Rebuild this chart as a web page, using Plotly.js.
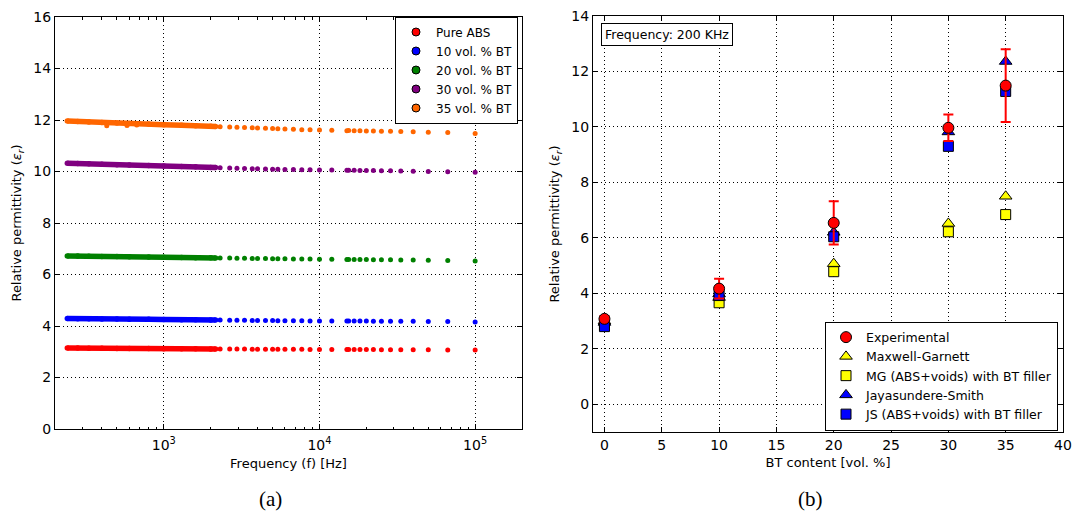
<!DOCTYPE html>
<html><head><meta charset="utf-8">
<script src="https://cdn.plot.ly/plotly-3.0.1.min.js"></script>
<style>html,body{margin:0;padding:0;background:#fff}</style>
</head><body>
<div id="chart" style="width:1077px;height:517px"></div>
<script>
// ---------- Panel (a): relative permittivity vs frequency ----------
const seriesNames = ['Pure ABS', '10 vol. % BT', '20 vol. % BT', '30 vol. % BT', '35 vol. % BT'];
const seriesColors = ['#ff0000', '#0000ff', '#008000', '#800080', '#ff6600'];

// dense low-frequency sweep (drawn as a continuous band)
const bandFreq = [240, 280, 330, 400, 500, 600, 800, 1000, 1300, 1600, 2000, 2150];
// discrete higher-frequency points
const dotFreq = [2300, 2650, 2950, 3300, 3700, 4000, 4500, 5000, 5400, 6000, 6800, 7700, 8700,
  10000, 12000, 15000, 15400, 16700, 18200, 20000, 22200, 25000, 28600, 33300, 40000, 50000, 66700, 100000];

const bandPure = [3.15, 3.15, 3.14, 3.14, 3.13, 3.13, 3.13, 3.12, 3.12, 3.12, 3.11, 3.11];
const dotPure  = [3.11, 3.11, 3.11, 3.11, 3.10, 3.10, 3.10, 3.10, 3.10, 3.10, 3.10, 3.10, 3.09, 3.09,
  3.09, 3.09, 3.09, 3.09, 3.09, 3.09, 3.09, 3.08, 3.08, 3.08, 3.08, 3.08, 3.07, 3.07];
const band10 = [4.29, 4.28, 4.28, 4.27, 4.27, 4.26, 4.26, 4.25, 4.24, 4.24, 4.23, 4.23];
const dot10  = [4.23, 4.22, 4.22, 4.22, 4.21, 4.21, 4.21, 4.21, 4.20, 4.20, 4.20, 4.20, 4.19, 4.19,
  4.19, 4.19, 4.19, 4.19, 4.19, 4.19, 4.18, 4.18, 4.18, 4.18, 4.18, 4.17, 4.17, 4.16];
const band20 = [6.72, 6.72, 6.71, 6.70, 6.70, 6.69, 6.68, 6.67, 6.66, 6.65, 6.65, 6.64];
const dot20  = [6.64, 6.64, 6.63, 6.63, 6.62, 6.62, 6.62, 6.61, 6.61, 6.61, 6.60, 6.60, 6.60, 6.59,
  6.59, 6.58, 6.58, 6.58, 6.58, 6.58, 6.57, 6.57, 6.57, 6.56, 6.56, 6.55, 6.54, 6.52];
const band30 = [10.32, 10.31, 10.30, 10.28, 10.26, 10.25, 10.23, 10.21, 10.19, 10.18, 10.16, 10.16];
const dot30  = [10.15, 10.14, 10.13, 10.12, 10.11, 10.11, 10.10, 10.09, 10.09, 10.08, 10.08, 10.07, 10.07, 10.06,
  10.06, 10.05, 10.05, 10.05, 10.04, 10.04, 10.04, 10.03, 10.03, 10.02, 10.01, 10.00, 9.99, 9.97];
const band35 = [11.96, 11.94, 11.92, 11.90, 11.88, 11.86, 11.84, 11.82, 11.80, 11.78, 11.76, 11.75];
const dot35  = [11.74, 11.73, 11.72, 11.71, 11.70, 11.69, 11.68, 11.67, 11.66, 11.65, 11.64, 11.62, 11.62, 11.61,
  11.60, 11.58, 11.59, 11.58, 11.58, 11.57, 11.57, 11.56, 11.56, 11.55, 11.54, 11.52, 11.51, 11.48];
// a few noisy outliers in the 35 % sweep
const out35Freq = [430, 580, 670];
const out35Vals = [11.78, 11.79, 11.81];

const freqTicks = [1000, 10000, 100000];
const freqTickText = ['10<sup>3</sup>', '10<sup>4</sup>', '10<sup>5</sup>'];

// ---------- Panel (b): relative permittivity vs BT content ----------
const btContent = [0, 10, 20, 30, 35];
const experimental = [3.08, 4.17, 6.54, 9.97, 11.49];
const experimentalErr = [0.10, 0.36, 0.78, 0.48, 1.31];
const maxwellGarnett = [3.00, 3.85, 5.07, 6.52, 7.50];
const mgVoids = [2.85, 3.66, 4.78, 6.22, 6.84];
const jayasundereSmith = [2.95, 3.98, 6.20, 9.82, 12.36];
const jsVoids = [2.80, 3.92, 6.04, 9.30, 11.28];

// ---------- traces ----------
const bandVals = [bandPure, band10, band20, band30, band35];
const dotVals = [dotPure, dot10, dot20, dot30, dot35];
const traces = [];
for (let i = 0; i < 5; i++) {
  traces.push({x: bandFreq, y: bandVals[i], xaxis: 'x', yaxis: 'y', mode: 'lines+markers', showlegend: false,
    line: {color: seriesColors[i], width: 5.5}, marker: {color: seriesColors[i], size: 5.5}, hoverinfo: 'skip'});
  traces.push({x: dotFreq, y: dotVals[i], xaxis: 'x', yaxis: 'y', mode: 'markers', showlegend: false,
    marker: {color: seriesColors[i], size: 5}});
}
traces.push({x: out35Freq, y: out35Vals, xaxis: 'x', yaxis: 'y', mode: 'markers', showlegend: false,
  marker: {color: seriesColors[4], size: 5}});
// legend entries for panel (a)
for (let i = 0; i < 5; i++) {
  traces.push({x: [null], y: [null], xaxis: 'x', yaxis: 'y', mode: 'markers', name: seriesNames[i],
    legend: 'legend', marker: {color: seriesColors[i], size: 8, line: {color: '#000', width: 1}}});
}

const ptsB = [
  {y: maxwellGarnett, name: 'Maxwell-Garnett', symbol: 'triangle-up', color: '#ffff00', size: 11, rank: 2},
  {y: mgVoids, name: 'MG (ABS+voids) with BT filler', symbol: 'square', color: '#ffff00', size: 10, rank: 3},
  {y: jayasundereSmith, name: 'Jayasundere-Smith', symbol: 'triangle-up', color: '#0000ff', size: 11, rank: 4},
  {y: jsVoids, name: 'JS (ABS+voids) with BT filler', symbol: 'square', color: '#0000ff', size: 10, rank: 5}
];
ptsB.forEach(p => traces.push({x: btContent, y: p.y, xaxis: 'x2', yaxis: 'y2', mode: 'markers', name: p.name,
  legend: 'legend2', legendrank: p.rank,
  marker: {symbol: p.symbol, color: p.color, size: p.size, line: {color: '#000', width: 1}}}));
traces.push({x: btContent, y: experimental, xaxis: 'x2', yaxis: 'y2', mode: 'markers', name: 'Experimental',
  legend: 'legend2', legendrank: 1,
  error_y: {type: 'data', array: experimentalErr, visible: true, color: '#ff0000', thickness: 2, width: 5},
  marker: {symbol: 'circle', color: '#ff0000', size: 11, line: {color: '#000', width: 1}}});

// ---------- layout ----------
const W = 1077, T = 16, B = 85, H = 517;
const plotH = H - T - B;
const py = p => (H - B - p) / plotH;   // pixel row -> paper y
const px = p => p / W;                 // pixel col -> paper x
const font = {family: 'DejaVu Sans, sans-serif', color: '#000'};
const gridDash = '1px,3px';
const axBase = {showline: true, linecolor: '#000', linewidth: 1, mirror: 'ticks', ticks: 'inside',
  ticklen: 5, tickcolor: '#000', tickwidth: 1, showgrid: true, gridcolor: '#000', gridwidth: 1,
  griddash: gridDash, zeroline: false, tickfont: {family: font.family, size: 14, color: '#000'}};

const minorVals = [];
[100, 1000, 10000, 100000].forEach(d => { for (let k = 2; k <= 9; k++) minorVals.push(k * d); });

const layout = {
  width: W, height: H, margin: {l: 0, r: 0, t: T, b: B}, paper_bgcolor: '#fff', plot_bgcolor: '#fff',
  font: font, showlegend: true,
  xaxis: Object.assign({}, axBase, {domain: [px(55), px(522)], anchor: 'y', type: 'log',
    range: [Math.log10(200), Math.log10(200000)], tickmode: 'array', tickvals: freqTicks, ticktext: freqTickText,
    ticklabelstandoff: 3,
    minor: {tickmode: 'array', tickvals: minorVals, ticks: 'inside', ticklen: 2.5, tickcolor: '#000', showgrid: false},
    title: {text: 'Frequency (f) [Hz]', font: {family: font.family, size: 13, color: '#000'}, standoff: 7}}),
  yaxis: Object.assign({}, axBase, {domain: [py(429), py(17)], anchor: 'x', range: [0, 16], dtick: 2, tick0: 0,
    title: {text: 'Relative permittivity (<i>ε<sub>r</sub></i>)', font: {family: font.family, size: 13, color: '#000'}, standoff: 8}}),
  xaxis2: Object.assign({}, axBase, {domain: [px(593), px(1063)], anchor: 'y2', range: [-1, 40], dtick: 5, tick0: 0,
    title: {text: 'BT content [vol. %]', font: {family: font.family, size: 13, color: '#000'}, standoff: 6}}),
  yaxis2: Object.assign({}, axBase, {domain: [py(432), py(16)], anchor: 'x2', range: [-1, 14], dtick: 2, tick0: 0,
    title: {text: 'Relative permittivity (<i>ε<sub>r</sub></i>)', font: {family: font.family, size: 13, color: '#000'}, standoff: 8}}),
  legend: {x: px(518), y: py(70), xanchor: 'right', yanchor: 'middle', bgcolor: '#fff', bordercolor: '#000', borderwidth: 1,
    font: {family: font.family, size: 12, color: '#000'}, tracegroupgap: 0, itemsizing: 'trace'},
  legend2: {x: px(1058), y: py(376), xanchor: 'right', yanchor: 'middle', bgcolor: '#fff', bordercolor: '#000', borderwidth: 1,
    font: {family: font.family, size: 12.5, color: '#000'}, tracegroupgap: 0, itemsizing: 'trace'},
  annotations: [
    {text: 'Frequency: 200 KHz', xref: 'paper', yref: 'paper', x: px(601), y: py(23), xanchor: 'left', yanchor: 'top',
      showarrow: false, bgcolor: '#fff', bordercolor: '#000', borderwidth: 1, borderpad: 3,
      font: {family: font.family, size: 12.5, color: '#000'}},
    {text: '(a)', xref: 'paper', yref: 'paper', x: px(270), y: py(499), xanchor: 'center', yanchor: 'middle',
      showarrow: false, font: {family: 'Liberation Serif, serif', size: 21, color: '#000'}},
    {text: '(b)', xref: 'paper', yref: 'paper', x: px(810), y: py(499), xanchor: 'center', yanchor: 'middle',
      showarrow: false, font: {family: 'Liberation Serif, serif', size: 21, color: '#000'}}
  ]
};

Plotly.newPlot('chart', traces, layout, {displayModeBar: false, staticPlot: true});
</script>
</body></html>
